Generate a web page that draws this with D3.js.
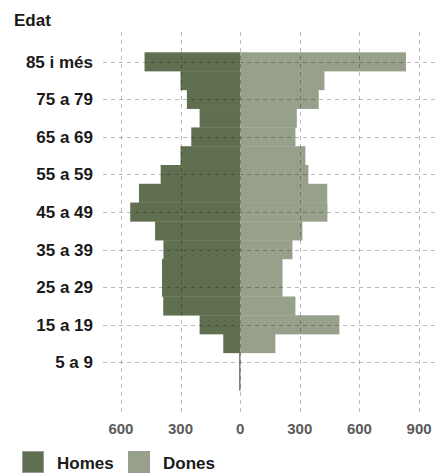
<!DOCTYPE html>
<html>
<head>
<meta charset="utf-8">
<script src="https://cdn.jsdelivr.net/npm/d3@7"></script>
<style>
  body { margin: 0; background: #fff; }
  svg { display: block; font-family: "Liberation Sans", Arial, sans-serif; }
</style>
</head>
<body>
<svg id="chart" width="435" height="473"></svg>
<script>
const ageGroups = ["0 a 4","5 a 9","10 a 14","15 a 19","20 a 24","25 a 29","30 a 34","35 a 39","40 a 44","45 a 49","50 a 54","55 a 59","60 a 64","65 a 69","70 a 74","75 a 79","80 a 84","85 i més"];
const homes = [5, 5, 85, 204, 387, 393, 393, 386, 428, 553, 509, 400, 300, 246, 204, 268, 300, 481];
const dones = [3, 3, 177, 499, 278, 213, 213, 263, 313, 439, 438, 343, 328, 278, 285, 395, 424, 834];
const tickValues = [-600, -300, 0, 300, 600, 900];
const labeledGroups = ["5 a 9","15 a 19","25 a 29","35 a 39","45 a 49","55 a 59","65 a 69","75 a 79","85 i més"];
const seriesNames = ["Homes", "Dones"];
const colors = ["#616f51", "#97a08a"];

const svg = d3.select("#chart");
const panel = {left: 103, right: 435, top: 32, bottom: 413};

const x = d3.scaleLinear().domain([-690, 970]).range([103, 433]);
const y = d3.scaleBand().domain(ageGroups).range([390.4, 52.3]).padding(0);

// bars
const data = ageGroups.map((g, i) => ({g, h: homes[i], d: dones[i]}));
svg.append("g").selectAll("rect.h").data(data).join("rect")
  .attr("x", d => x(-d.h)).attr("width", d => x(0) - x(-d.h))
  .attr("y", d => y(d.g)).attr("height", y.bandwidth() + 0.3)
  .attr("fill", colors[0]);
svg.append("g").selectAll("rect.d").data(data).join("rect")
  .attr("x", x(0)).attr("width", d => x(d.d) - x(0))
  .attr("y", d => y(d.g)).attr("height", y.bandwidth() + 0.3)
  .attr("fill", colors[1]);

// grid (drawn over bars, semi-transparent)
const grid = svg.append("g").attr("stroke", "rgba(0,0,0,0.26)").attr("stroke-width", 1)
  .attr("stroke-dasharray", "4,4");
grid.selectAll("line.v").data(tickValues).join("line")
  .attr("x1", d => Math.round(x(d)) + 0.5).attr("x2", d => Math.round(x(d)) + 0.5)
  .attr("y1", panel.top).attr("y2", panel.bottom);
grid.selectAll("line.hz").data(labeledGroups).join("line")
  .attr("x1", panel.left).attr("x2", panel.right)
  .attr("y1", d => Math.round(y(d) + y.bandwidth() / 2) + 0.5)
  .attr("y2", d => Math.round(y(d) + y.bandwidth() / 2) + 0.5);

// y labels
svg.append("g").selectAll("text").data(labeledGroups).join("text")
  .attr("x", 93).attr("y", d => y(d) + y.bandwidth() / 2 + 6)
  .attr("text-anchor", "end").attr("font-size", 17).attr("font-weight", "bold")
  .attr("fill", "#1a1a1a").text(d => d);

// x tick labels
svg.append("g").selectAll("text").data(tickValues).join("text")
  .attr("x", d => x(d)).attr("y", 433.5)
  .attr("text-anchor", "middle").attr("font-size", 15).attr("font-weight", "bold")
  .attr("fill", "#5a5a5a").text(d => Math.abs(d));

// title
svg.append("text").attr("x", 14).attr("y", 25.5).attr("font-size", 17)
  .attr("font-weight", "bold").attr("fill", "#1a1a1a").text("Edat");

// legend
const legendX = [22, 128];
const lg = svg.append("g").selectAll("g").data(seriesNames).join("g")
  .attr("transform", (d, i) => `translate(${legendX[i]},451)`);
lg.append("rect").attr("x", 0.5).attr("y", 0.5).attr("width", 21).attr("height", 21)
  .attr("fill", (d, i) => colors[i]).attr("stroke", "#9a9a9a").attr("stroke-width", 1);
lg.append("text").attr("x", 35).attr("y", 17.5).attr("font-size", 17)
  .attr("font-weight", "bold").attr("fill", "#1a1a1a").text(d => d);
</script>
</body>
</html>
